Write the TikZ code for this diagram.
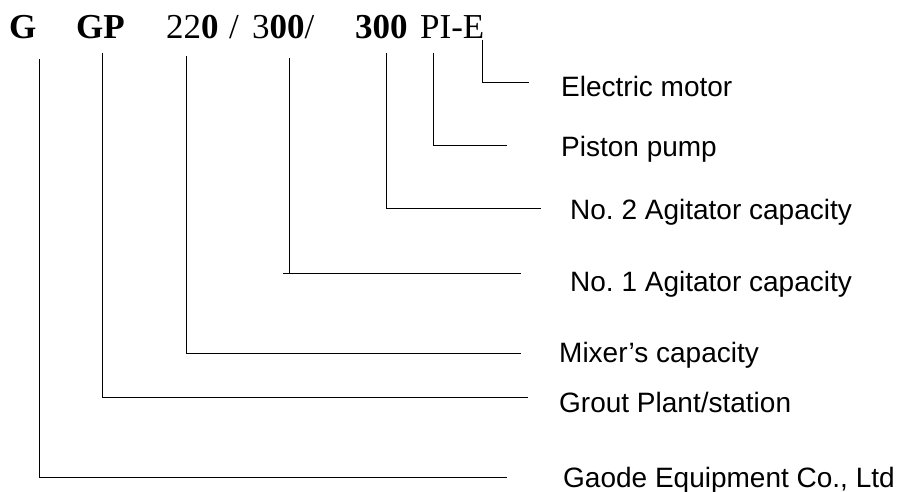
\documentclass[tikz,border=0pt]{standalone}
\usepackage{fontspec}
\setmainfont{Liberation Serif}
\setsansfont{Liberation Sans}
\usepackage{tikz}
\tikzstyle{codetext} = [inner sep=0pt, anchor=base west, font=\fontsize{35}{40}\selectfont]
\tikzstyle{desc} = [inner sep=0pt, anchor=base west, font=\sffamily\fontsize{28}{32}\selectfont]
\tikzstyle{wire} = [line width=1pt]

\begin{document}
\begin{tikzpicture}[x=1pt,y=-1pt]
	\useasboundingbox (0,0) rectangle (913,492);
	% model code
	\node[codetext] (g) at (9,39) {\textbf{G}};
	\node[codetext] (gp) at (76,39) {\textbf{GP}};
	\node[codetext] (mix) at (166,39) {22\textbf{0}};
	\node[codetext] (sep) at (229,39) {/};
	\node[codetext] (agi) at (252,39) {3\textbf{00}/};
	\node[codetext] (agii) at (355,39) {\textbf{300}};
	\node[codetext] (pie) at (420,39) {PI-E};
	% meanings
	\node[desc] (motor) at (561,97) {Electric motor};
	\node[desc] (pump) at (561,157) {Piston pump};
	\node[desc] (agit2) at (570,219) {No.\ 2 Agitator capacity};
	\node[desc] (agit1) at (570,291) {No.\ 1 Agitator capacity};
	\node[desc] (mixer) at (559,362) {Mixer’s capacity};
	\node[desc] (grout) at (559,412) {Grout Plant/station};
	\node[desc] (gaode) at (563,487) {Gaode Equipment Co., Ltd};
	% line ends
	\coordinate (tE) at (482,40);  \coordinate (eE) at (529,83);
	\coordinate (tPI) at (433,53); \coordinate (ePI) at (507,146);
	\coordinate (tA2) at (386,53); \coordinate (eA2) at (541,208);
	\coordinate (tA1) at (289,58); \coordinate (eA1) at (521,273);
	\coordinate (tM) at (186,56);  \coordinate (eM) at (521,353);
	\coordinate (tGP) at (102,53); \coordinate (eGP) at (528,397);
	\coordinate (tG) at (39,59);   \coordinate (eG) at (507,477);
	\draw[wire] (tE) |- (eE);
	\draw[wire] (tPI) |- (ePI);
	\draw[wire] (tA2) |- (eA2);
	\draw[wire] (tA1) -- (tA1 |- eA1);
	\draw[wire] ([xshift=-6pt]tA1 |- eA1) -- (eA1);
	\draw[wire] (tM) |- (eM);
	\draw[wire] (tGP) |- (eGP);
	\draw[wire] (tG) |- (eG);
\end{tikzpicture}
\end{document}
